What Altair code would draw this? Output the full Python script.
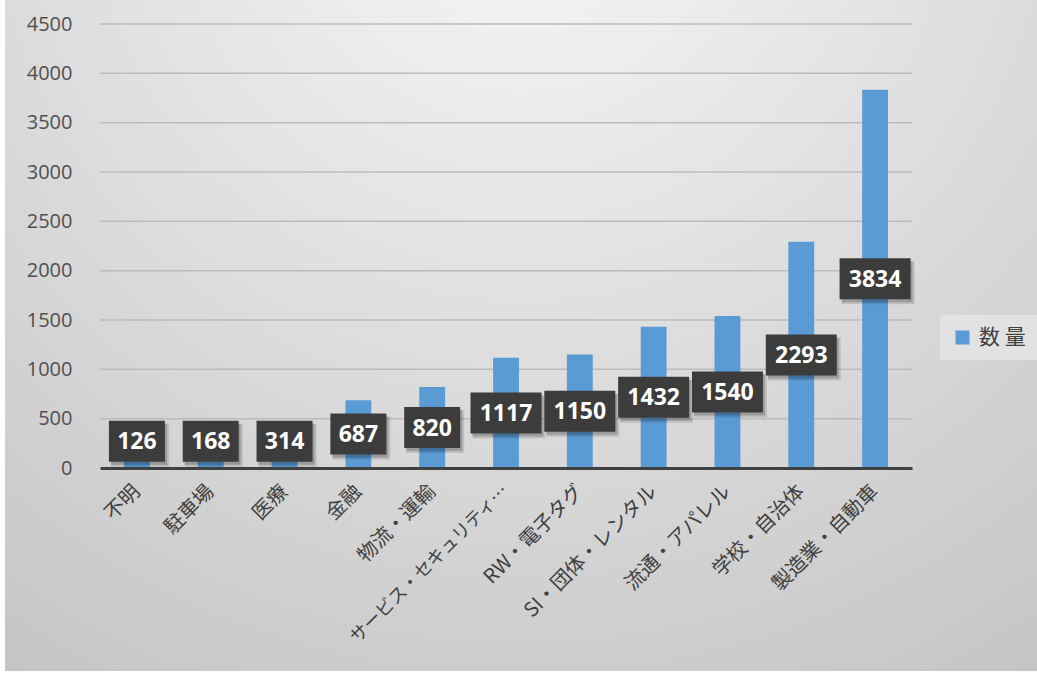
import altair as alt
import pandas as pd

categories = ["不明", "駐車場", "医療", "金融", "物流・運輸", "サービス・セキュリティ…",
              "RW・電子タグ", "SI・団体・レンタル", "流通・アパレル", "学校・自治体", "製造業・自動車"]
values = [126, 168, 314, 687, 820, 1117, 1150, 1432, 1540, 2293, 3834]
series_name = "数 量"
y_ticks = [0, 500, 1000, 1500, 2000, 2500, 3000, 3500, 4000, 4500]

df = pd.DataFrame({"cat": categories, "v": values})
df["series"] = series_name
df["lab"] = df["v"].astype(str)
grid_df = pd.DataFrame({"t": y_ticks[1:]})

BLUE = "#5B9BD5"
JP = "Noto Sans CJK JP"

yscale = alt.Scale(domain=[0, 4500], nice=False)
xscale = alt.Scale(paddingInner=0.65, paddingOuter=0.325)
yaxis = alt.Axis(title=None, values=y_ticks, format="d", ticks=False, domain=False, labelPadding=28,
                 labelFont="Open Sans", labelFontSize=20, labelColor="#505050",
                 grid=False, zindex=1)

long_label = categories[5]

base = alt.Chart(df)

bg = base.mark_rect(
    fill=alt.Gradient(gradient="radial", stops=[alt.GradientStop(color="#f8f8f8", offset=0),
                                                 alt.GradientStop(color="#c3c3c3", offset=1)],
                      x1=0.5, y1=0.05, r1=0, x2=0.5, y2=0.05, r2=0.95)
).encode(x=alt.value(-95), x2=alt.value(937), y=alt.value(-24), y2=alt.value(647))

grid = alt.Chart(grid_df).mark_rule(color="#bcbcbc", strokeWidth=1.5).encode(
    y=alt.Y("t:Q", scale=yscale, axis=yaxis), x=alt.value(0), x2=alt.value(812))

bars = base.mark_bar(color=BLUE).encode(
    x=alt.X("cat:N", sort=categories, scale=xscale,
            axis=alt.Axis(title=None, labelAngle=-45, labelAlign="right", labelBaseline="middle",
                          labelFont=JP,
                          labelFontSize={"condition": {"test": f"datum.value === '{long_label}'",
                                                       "value": 18}, "value": 20},
                          labelColor="#404040", labelPadding=20,
                          labelLimit=500, ticks=False, domainColor="#404040", domainWidth=3,
                          grid=False, zindex=1)),
    y=alt.Y("v:Q", scale=yscale, axis=yaxis),
    color=alt.Color("series:N", scale=alt.Scale(range=[BLUE]),
                    legend=alt.Legend(title=None, orient="none", legendX=840, legendY=291,
                                      symbolType="square", symbolSize=196, symbolStrokeWidth=0,
                                      labelFont=JP, labelFontSize=21, labelColor="#404040",
                                      fillColor="#e2e2e2", padding=12, labelOffset=6))
)

lab = base.transform_calculate(ly="max(datum.v / 2, 272)", nd="length(datum.lab)")
ypos = alt.Y("ly:Q", scale=yscale)
xpos = alt.X("cat:N", sort=categories, scale=xscale)

layers = [bg, grid, bars]
for nd, w in [(3, 56), (4, 71)]:
    sub = lab.transform_filter(f"datum.nd == {nd}")
    layers.append(sub.mark_rect(width=w + 2, height=43, color="#000000", opacity=0.12,
                                xOffset=3, yOffset=4).encode(x=xpos, y=ypos))
    layers.append(sub.mark_rect(width=w, height=41, color="#000000", opacity=0.18,
                                xOffset=2, yOffset=3).encode(x=xpos, y=ypos))
    layers.append(sub.mark_rect(width=w, height=41, color="#3c3c3c").encode(x=xpos, y=ypos))

layers.append(lab.mark_text(font="Open Sans", fontWeight="bold", fontSize=23, color="white",
                            baseline="middle", dy=1).encode(x=xpos, y=ypos, text="lab:N"))

chart = alt.layer(*layers).properties(
    width=812, height=444,
    autosize=alt.AutoSizeParams(type="none"),
    padding={"left": 100, "top": 24, "right": 125, "bottom": 205},
    background="white",
).configure_view(stroke=None)

chart.save("out.html", embed_options={"renderer": "svg", "actions": False})
